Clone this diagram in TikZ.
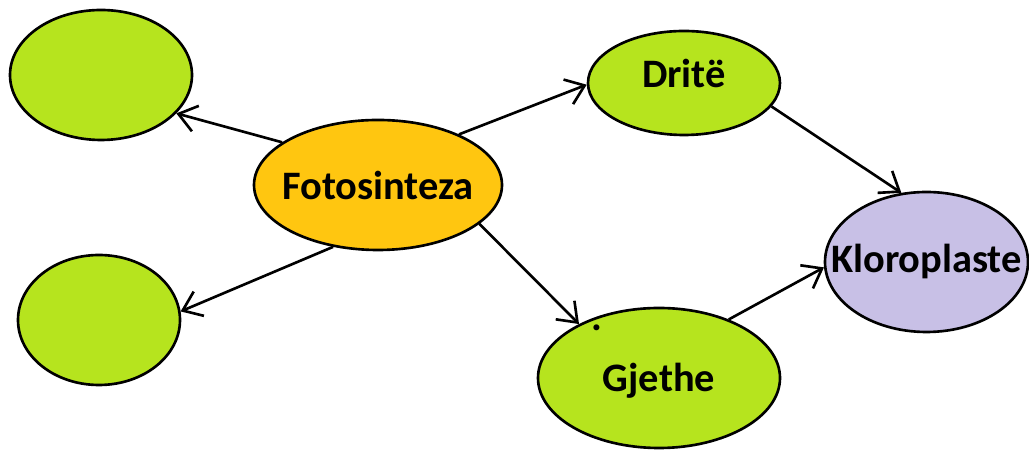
\documentclass[tikz,border=0pt]{standalone}
\usepackage{fontspec}
\setmainfont{Carlito}
\usepackage{tikz}
\usetikzlibrary{arrows.meta,shapes.geometric}
\definecolor{leafgreen}{RGB}{182,228,30}
\definecolor{sunorange}{RGB}{255,198,16}
\definecolor{lilac}{RGB}{200,192,230}
\begin{document}
\begin{tikzpicture}
[e/.style={ellipse,draw=black,line width=1.5pt,inner sep=0pt},
 txt/.style={font=\fontsize{23}{27}\selectfont\bfseries},
 >={Straight Barb[length=10pt,width=15pt]}, line width=1.5pt]
\useasboundingbox (0,0) rectangle (20.58,9.10);
\node[e,fill=leafgreen,minimum width=3.64cm,minimum height=2.6cm] (tl) at (2.02,7.60) {};
\node[e,fill=leafgreen,minimum width=3.24cm,minimum height=2.6cm] (bl) at (1.98,2.70) {};
\node[e,fill=sunorange,minimum width=4.96cm,minimum height=2.6cm,
  label={[txt]center:Fotosinteza}] (foto) at (7.56,5.40) {};
\node[e,fill=leafgreen,minimum width=3.84cm,minimum height=2.08cm,
  label={[txt,yshift=0.2cm]center:Dritë}] (drite) at (13.68,7.44) {};
\node[e,fill=leafgreen,minimum width=4.84cm,minimum height=2.8cm,
  label={[txt,yshift=-0.06cm]center:Gjethe}] (gjethe) at (13.18,1.54) {};
\node[e,fill=lilac,minimum width=4.06cm,minimum height=2.8cm,
  label={[txt]center:Kloroplaste}] (klor) at (18.53,3.86) {};
\node[txt] (dot) at (11.94,2.55) {.};
\draw[->] (foto.156) -- (tl.333);
\draw[->] (foto.234) -- (bl.6);
\draw[->] (foto.32) -- (drite.181);
\draw[->] (foto.-21) -- (gjethe.146);
\draw[->] (drite.-15) -- (klor.110);
\draw[->] (gjethe.40) -- (klor.183);
\end{tikzpicture}
\end{document}
